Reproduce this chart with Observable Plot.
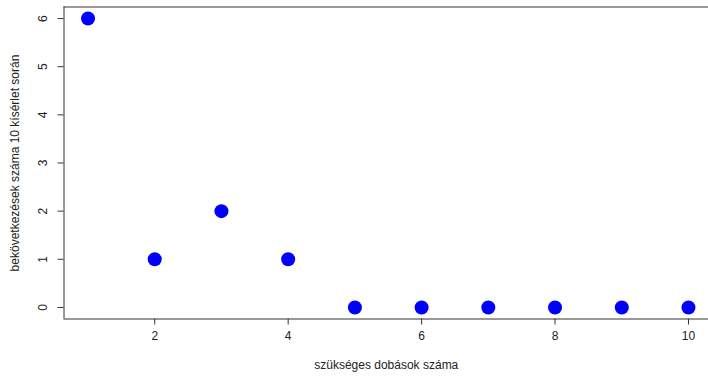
<!DOCTYPE html>
<html><head><meta charset="utf-8">
<script src="https://cdn.jsdelivr.net/npm/d3@7"></script>
<script src="https://cdn.jsdelivr.net/npm/@observablehq/plot@0.6"></script>
<style>body{margin:0;background:#fff;overflow:hidden}</style>
</head><body><div id="chart"></div>
<script>
const throwsNeeded = [1, 2, 3, 4, 5, 6, 7, 8, 9, 10];
const counts = [6, 1, 2, 1, 0, 0, 0, 0, 0, 0];
const xTicks = [2, 4, 6, 8, 10];
const yTicks = [0, 1, 2, 3, 4, 5, 6];
const xLabel = "szükséges dobások száma";
const yLabel = "bekövetkezések száma 10 kísérlet során";

const data = throwsNeeded.map((x, i) => ({x, y: counts[i]}));
const xDom = [0.64, 10.36], yDom = [-0.24, 6.24];
const ink = "#333";

const chart = Plot.plot({
  width: 708, height: 376,
  marginLeft: 63.5, marginTop: 6.5, marginBottom: 57.5, marginRight: 0,
  style: {fontFamily: "'Liberation Sans', Arial, sans-serif", fontSize: "12px", background: "#fff", color: "#222", overflow: "hidden"},
  x: {domain: xDom, range: [63.5, 712], axis: null},
  y: {domain: yDom, range: [318.5, 6.5], axis: null},
  marks: [
    Plot.ruleX([xDom[0]], {stroke: ink}),
    Plot.ruleY([yDom[0], yDom[1]], {stroke: ink}),
    Plot.axisX(xTicks, {anchor: "bottom", tickSize: 6, stroke: ink, tickFormat: () => "", label: null}),
    Plot.text(xTicks, {x: d => d, text: d => String(d), frameAnchor: "bottom", dy: 21, fill: "#222"}),
    Plot.axisY(yTicks, {anchor: "left", tickSize: 6, stroke: ink, tickFormat: () => "", label: null}),
    Plot.text(yTicks, {y: d => d, text: d => String(d), frameAnchor: "left", textAnchor: "middle", dx: -21, rotate: -90, fill: "#222"}),
    Plot.text([xLabel], {frameAnchor: "bottom", dy: 50, fill: "#222"}),
    Plot.text([yLabel], {frameAnchor: "left", textAnchor: "middle", dx: -48.5, rotate: -90, fill: "#222"}),
    Plot.dot(data, {x: "x", y: "y", r: 7, fill: "blue", stroke: "none"})
  ]
});
document.getElementById("chart").append(chart);
</script>
</body></html>
